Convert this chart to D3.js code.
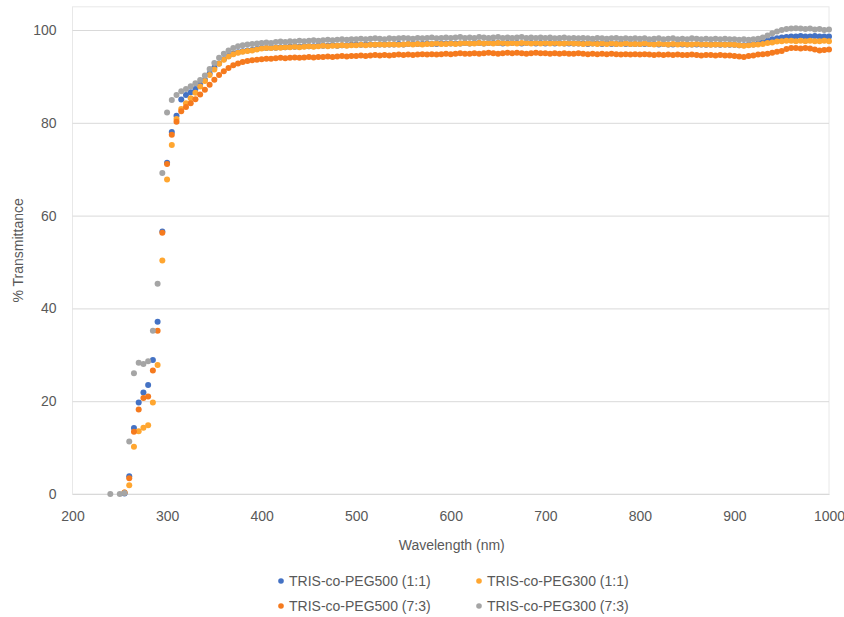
<!DOCTYPE html>
<html>
<head>
<meta charset="utf-8">
<script src="https://cdn.jsdelivr.net/npm/d3@7/dist/d3.min.js"></script>
<style>
  html, body { margin: 0; padding: 0; background: #fff; }
  svg { display: block; font-family: "Liberation Sans", Arial, sans-serif; }
</style>
</head>
<body>
<svg id="chart" width="844" height="617"></svg>
<script>
// Wavelength grid (nm), 5 nm steps
const wavelengths = [
  240,245,250,255,260,265,270,275,280,285,290,295,300,305,310,315,
  320,325,330,335,340,345,350,355,360,365,370,375,380,385,390,395,
  400,405,410,415,420,425,430,435,440,445,450,455,460,465,470,475,480,485,490,495,
  500,505,510,515,520,525,530,535,540,545,550,555,560,565,570,575,580,585,590,595,
  600,605,610,615,620,625,630,635,640,645,650,655,660,665,670,675,680,685,690,695,
  700,705,710,715,720,725,730,735,740,745,750,755,760,765,770,775,780,785,790,795,
  800,805,810,815,820,825,830,835,840,845,850,855,860,865,870,875,880,885,890,895,
  900,905,910,915,920,925,930,935,940,945,950,955,960,965,970,975,980,985,990,995,1000
];

// % Transmittance, TRIS-co-PEG500 (1:1)
const peg500_11 = [
  null,null,null,0.1,3.8,14.2,19.7,21.9,23.5,28.9,37.1,56.6,71.4,78.0,81.5,85.0,
  86.0,86.6,87.3,88.2,89.3,90.6,91.9,92.8,93.7,94.4,94.9,95.2,95.4,95.6,95.7,95.9,
  96.1,96.1,96.2,96.2,96.3,96.3,96.4,96.4,96.4,96.5,96.5,96.5,96.6,96.6,96.6,96.7,96.6,96.7,96.7,96.8,
  96.8,96.8,96.8,96.9,96.8,96.9,96.9,96.9,96.9,97.0,96.9,97.0,97.0,97.0,97.0,97.1,97.0,97.0,97.1,97.1,
  97.1,97.1,97.1,97.2,97.1,97.2,97.2,97.1,97.2,97.2,97.2,97.1,97.2,97.2,97.2,97.1,97.2,97.2,97.1,97.2,
  97.1,97.2,97.1,97.2,97.1,97.1,97.1,97.1,97.1,97.0,97.1,97.1,97.0,97.1,97.0,97.0,97.1,97.0,97.0,97.0,
  97.0,97.0,97.0,97.0,96.9,97.0,96.9,96.9,97.0,96.9,96.9,96.9,96.9,96.9,96.8,96.9,96.9,96.8,96.9,96.8,
  96.8,96.7,96.7,96.8,96.9,97.1,97.4,97.7,98.0,98.2,98.4,98.5,98.6,98.6,98.7,98.6,98.6,98.7,98.6,98.6,98.6
];

// % Transmittance, TRIS-co-PEG300 (1:1)
const peg300_11 = [
  null,null,null,0.3,1.9,10.2,13.5,14.3,14.8,19.7,27.8,50.3,67.8,75.2,80.8,83.0,
  84.2,85.3,86.5,87.8,89.0,90.3,91.5,92.7,93.6,94.3,94.8,95.1,95.3,95.5,95.6,95.8,
  96.0,96.1,96.1,96.2,96.2,96.3,96.3,96.4,96.3,96.4,96.5,96.4,96.5,96.6,96.5,96.6,96.6,96.7,96.6,96.7,
  96.7,96.8,96.7,96.8,96.8,96.9,96.8,96.9,96.9,96.8,96.9,97.0,96.9,97.0,96.9,97.0,97.0,97.1,97.0,97.0,
  97.1,97.0,97.1,97.2,97.1,97.1,97.2,97.1,97.2,97.1,97.2,97.2,97.1,97.2,97.1,97.2,97.2,97.1,97.2,97.1,
  97.2,97.1,97.2,97.1,97.1,97.2,97.1,97.1,97.0,97.1,97.1,97.0,97.1,97.0,97.1,97.0,97.0,97.1,97.0,97.0,
  97.0,97.1,97.0,96.9,97.0,97.0,96.9,97.0,96.9,97.0,96.9,96.9,97.0,96.9,96.9,96.8,96.9,96.9,96.8,96.9,
  96.8,96.7,96.6,96.7,96.8,96.9,97.0,97.2,97.3,97.5,97.6,97.7,97.7,97.6,97.7,97.6,97.7,97.6,97.6,97.7,97.6
];

// % Transmittance, TRIS-co-PEG500 (7:3)
const peg500_73 = [
  null,null,null,0.3,3.4,13.4,18.2,20.7,21.0,26.6,35.2,56.3,71.1,77.4,80.2,82.5,
  83.4,84.2,85.1,86.1,87.1,88.2,89.3,90.3,91.1,91.8,92.4,92.8,93.1,93.3,93.5,93.6,
  93.7,93.8,93.8,93.9,94.0,93.9,94.0,94.1,94.0,94.1,94.2,94.1,94.2,94.2,94.3,94.2,94.3,94.4,94.3,94.4,
  94.4,94.5,94.4,94.5,94.6,94.5,94.6,94.5,94.6,94.7,94.6,94.7,94.6,94.7,94.8,94.7,94.8,94.7,94.8,94.9,
  94.8,94.9,95.0,94.9,94.9,95.0,94.9,95.0,95.1,95.0,94.9,95.0,95.1,95.0,95.1,95.0,94.9,95.0,95.1,95.0,
  95.0,94.9,95.0,94.9,95.0,94.9,94.9,95.0,94.9,94.8,94.9,94.8,94.9,94.8,94.9,94.8,94.7,94.8,94.7,94.8,
  94.7,94.8,94.7,94.6,94.7,94.6,94.7,94.6,94.7,94.6,94.6,94.7,94.6,94.5,94.6,94.6,94.5,94.6,94.5,94.5,
  94.4,94.3,94.2,94.4,94.5,94.7,94.8,94.9,95.1,95.3,95.5,95.9,96.1,96.1,96.0,96.1,96.0,95.8,95.6,95.7,95.8
];

// % Transmittance, TRIS-co-PEG300 (7:3)
const peg300_73 = [
  0.0,null,0.0,0.2,11.3,26.0,28.3,28.0,28.6,35.2,45.3,69.2,82.2,84.9,86.0,86.8,
  87.3,87.9,88.5,89.2,90.2,91.6,92.9,94.0,94.9,95.6,96.1,96.5,96.7,96.9,97.0,97.1,
  97.2,97.3,97.2,97.4,97.5,97.4,97.6,97.5,97.7,97.6,97.7,97.8,97.7,97.8,97.9,97.8,97.9,98.0,97.9,98.0,
  98.0,98.1,98.0,98.1,98.2,98.1,98.0,98.2,98.1,98.2,98.3,98.2,98.1,98.3,98.2,98.3,98.4,98.2,98.3,98.4,
  98.3,98.4,98.5,98.3,98.4,98.3,98.5,98.4,98.3,98.4,98.5,98.3,98.4,98.3,98.4,98.5,98.3,98.4,98.3,98.4,
  98.3,98.4,98.2,98.3,98.4,98.2,98.3,98.2,98.3,98.2,98.1,98.3,98.2,98.1,98.2,98.3,98.1,98.2,98.1,98.2,
  98.1,98.2,98.0,98.1,98.2,98.0,98.1,98.2,98.0,98.1,98.0,98.2,98.1,98.0,98.1,98.0,98.1,98.0,98.1,98.0,
  98.0,97.9,98.0,97.9,98.0,98.1,98.4,98.8,99.3,99.7,100.0,100.2,100.3,100.4,100.3,100.2,100.3,100.1,100.2,100.0,100.1
];

const seriesNames  = ["TRIS-co-PEG500 (1:1)", "TRIS-co-PEG300 (1:1)", "TRIS-co-PEG500 (7:3)", "TRIS-co-PEG300 (7:3)"];
const seriesValues = [peg500_11, peg300_11, peg500_73, peg300_73];
const seriesColors = ["#4472C4", "#FFA630", "#F57A1E", "#A5A5A5"];

const xTicks = [200, 300, 400, 500, 600, 700, 800, 900, 1000];
const yTicks = [0, 20, 40, 60, 80, 100];
const xTitle = "Wavelength (nm)";
const yTitle = "% Transmittance";

// Layout
const plot = { left: 72.5, right: 829, top: 6.8, bottom: 494 };
const textColor = "#595959";
const gridColor = "#D9D9D9";

const svg = d3.select("#chart");

const x = d3.scaleLinear().domain([200, 1000]).range([plot.left, plot.right]);
const y = d3.scaleLinear().domain([0, 105]).range([plot.bottom, plot.top]);

// Plot area frame
svg.append("rect")
  .attr("x", plot.left).attr("y", plot.top)
  .attr("width", plot.right - plot.left).attr("height", plot.bottom - plot.top)
  .attr("fill", "none").attr("stroke", "#E8E8E8").attr("stroke-width", 1);

// Horizontal gridlines + y tick labels
const yAxis = svg.append("g")
  .attr("transform", `translate(${plot.left},0)`)
  .call(d3.axisLeft(y).tickValues(yTicks).tickSize(-(plot.right - plot.left)).tickPadding(16).tickFormat(d3.format("d")));
yAxis.select(".domain").remove();
yAxis.selectAll(".tick line").attr("stroke", gridColor).attr("stroke-width", 1);
yAxis.selectAll(".tick text")
  .attr("fill", textColor).style("font-size", "14px")
  .style("font-family", "'Liberation Sans', Arial, sans-serif");

// x axis labels
const xAxis = svg.append("g")
  .attr("transform", `translate(0,${plot.bottom})`)
  .call(d3.axisBottom(x).tickValues(xTicks).tickSize(0).tickPadding(17).tickFormat(d3.format("d")));
xAxis.select(".domain").attr("stroke", gridColor);
xAxis.selectAll(".tick text")
  .attr("fill", textColor).style("font-size", "14px")
  .style("font-family", "'Liberation Sans', Arial, sans-serif");

// Axis titles
svg.append("text")
  .attr("x", (plot.left + plot.right) / 2 + 1).attr("y", 550)
  .attr("text-anchor", "middle").attr("fill", textColor)
  .style("font-size", "14px").text(xTitle);

svg.append("text")
  .attr("transform", `translate(23,${(plot.top + plot.bottom) / 2}) rotate(-90)`)
  .attr("text-anchor", "middle").attr("fill", textColor)
  .style("font-size", "14px").text(yTitle);

// Scatter markers, one group per series
seriesValues.forEach((vals, si) => {
  const pts = wavelengths.map((w, i) => ({ w, v: vals[i] })).filter(d => d.v !== null && d.v !== undefined);
  svg.append("g")
    .selectAll("circle")
    .data(pts)
    .join("circle")
    .attr("cx", d => x(d.w))
    .attr("cy", d => y(d.v))
    .attr("r", 3)
    .attr("fill", seriesColors[si]);
});

// Legend: two columns, two rows
const legendX = [281, 479];
const legendY = [581, 606];
seriesNames.forEach((name, i) => {
  const cx = legendX[i % 2], cy = legendY[Math.floor(i / 2)];
  const g = svg.append("g");
  g.append("circle").attr("cx", cx).attr("cy", cy).attr("r", 2.8).attr("fill", seriesColors[i]);
  g.append("text").attr("x", cx + 8).attr("y", cy + 5)
    .attr("fill", textColor).style("font-size", "14px").text(name);
});
</script>
</body>
</html>
